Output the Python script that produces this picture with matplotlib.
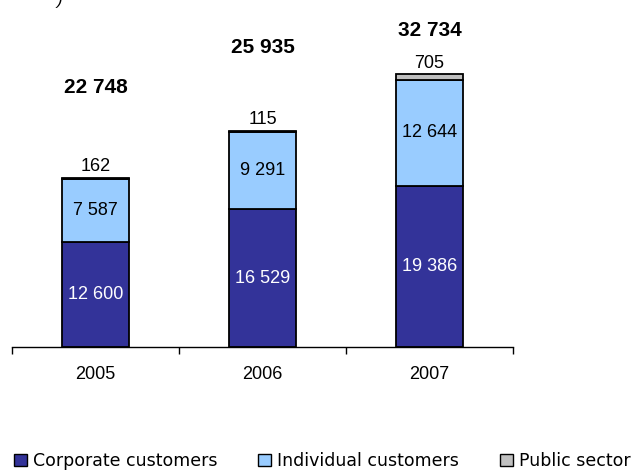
import matplotlib.pyplot as plt
from matplotlib.patches import Patch

years = ["2005", "2006", "2007"]
corporate = [12600, 16529, 19386]
individual = [7587, 9291, 12644]
public = [162, 115, 705]
totals = [22748, 25935, 32734]
series_names = ["Corporate customers", "Individual customers", "Public sector"]

colors = ["#333399", "#99CCFF", "#C0C0C0"]
# heights (data units) where the bold totals sit
total_label_y = [31100, 36000, 38050]


def fmt(v):
    return f"{v:,}".replace(",", " ")


plt.rcParams["font.family"] = ["Liberation Sans", "DejaVu Sans"]

fig = plt.figure(figsize=(6.42, 4.72), dpi=100)
ax = fig.add_axes([0.0187, 0.2648, 0.7804, 0.7059])

x = list(range(len(years)))
width = 0.4
bottom2 = [a + b for a, b in zip(corporate, individual)]

b1 = ax.bar(x, corporate, width, color=colors[0], edgecolor="black", linewidth=1.3)
b2 = ax.bar(x, individual, width, bottom=corporate, color=colors[1],
            edgecolor="black", linewidth=1.3)
b3 = ax.bar(x, public, width, bottom=bottom2, color=colors[2],
            edgecolor="black", linewidth=1.3)

for i in x:
    ax.text(i, corporate[i] / 2, fmt(corporate[i]), ha="center", va="center",
            color="white", fontsize=13)
    ax.text(i, corporate[i] + individual[i] / 2, fmt(individual[i]),
            ha="center", va="center", color="black", fontsize=13)
    ax.annotate(fmt(public[i]), (i, bottom2[i] + public[i]), xytext=(0, 2),
                textcoords="offset points", ha="center", va="bottom",
                fontsize=13)
    ax.text(i, total_label_y[i], fmt(totals[i]), ha="center", va="center",
            fontsize=15, fontweight="bold")

ax.set_xlim(-0.5, 2.5)
ax.set_ylim(0, 40000)
for side in ["left", "right", "top"]:
    ax.spines[side].set_visible(False)
ax.spines["bottom"].set_linewidth(1.0)
ax.set_yticks([])
ax.set_xticks([-0.5, 0.5, 1.5, 2.5])
ax.set_xticklabels([])
ax.tick_params(axis="x", which="major", length=5, width=1.0, direction="out")
ax.set_xticks(x, minor=True)
ax.set_xticklabels(years, minor=True, fontsize=13)
ax.tick_params(axis="x", which="minor", length=0, pad=14)

handles = [Patch(facecolor=c, edgecolor="black", linewidth=1.0) for c in colors]
fig.legend(handles, series_names, loc="lower left", bbox_to_anchor=(0.008, -0.014),
           ncol=3, frameon=False, handlelength=0.75, handleheight=0.75,
           handletextpad=0.35, columnspacing=2.35, borderpad=0,
           prop={"family": "DejaVu Sans", "size": 12.5})

fig.text(0.092, 1.0, ")", fontsize=12, style="italic", ha="center", va="center")

fig.savefig("out.png", dpi=100)
